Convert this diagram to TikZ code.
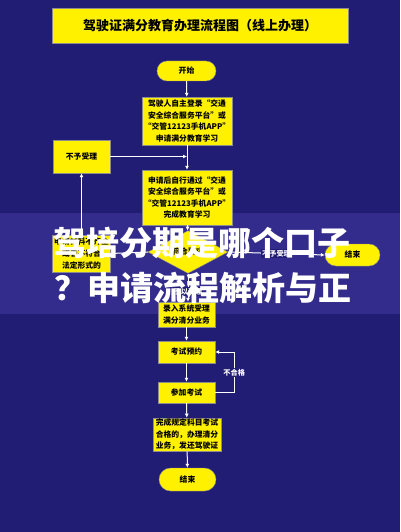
\documentclass[tikz,border=0pt]{standalone}
\usepackage{fontspec}
\setmainfont{Noto Sans CJK SC}
\usetikzlibrary{arrows.meta, shapes.geometric}

\definecolor{bgblue}{RGB}{33,29,117}
\definecolor{bandblue}{RGB}{52,44,140}
\definecolor{boxyellow}{RGB}{255,241,0}

\begin{document}
\begin{tikzpicture}[x=1pt, y=-1pt,
    box/.style={draw=black!45, line width=0.4pt, fill=boxyellow, align=center,
        inner sep=1pt, font=\fontsize{7.8}{11.6}\selectfont\bfseries},
    term/.style={box, minimum height=#1, rounded corners=#1/2},
    arr/.style={draw=white, line width=1pt, -{Latex[length=4pt, width=4pt]}},
    lbl/.style={fill=bgblue, text=white, inner sep=1pt,
        font=\fontsize{7.2}{8}\selectfont\bfseries}]
    % Variable za polozaj glavnog stupca
    \def\colX{187}

    % Pozadina i traka
    \fill[bgblue] (0,0) rectangle (400,532);
    \fill[bandblue] (0,213) rectangle (400,314);

    % Naslov
    \node[box, minimum width=296pt, minimum height=35pt,
        font=\fontsize{13}{14}\selectfont\bfseries] (title) at (200,25.5)
        {驾驶证满分教育办理流程图（线上办理）};

    % Glavni stupac
    \node[term=20pt, minimum width=59pt] (start) at (\colX-0.5,71) {开始};
    \node[box, minimum width=90pt, minimum height=48pt] (login) at (\colX,121)
        {驾驶人自主登录“交通\\安全综合服务平台”或\\“交管12123手机APP”\\申请满分教育学习};
    \node[box, minimum width=90pt, minimum height=55pt] (study) at (\colX,197.5)
        {申请后自行通过“交通\\安全综合服务平台”或\\“交管12123手机APP”\\完成教育学习};
    \node[diamond, box, minimum width=80pt, minimum height=40pt] (check) at (\colX+1,252)
        {符合要求};
    \node[box, minimum width=57pt, minimum height=25pt] (enter) at (\colX-0.5,314.5)
        {录入系统受理\\满分清分业务};
    \node[box, minimum width=57pt, minimum height=22pt] (book) at (\colX-0.5,352) {考试预约};
    \node[box, minimum width=57pt, minimum height=21pt] (exam) at (\colX-0.5,392.5) {参加考试};
    \node[box, minimum width=68pt, minimum height=33pt] (finish) at (\colX,434.5)
        {完成规定科目考试\\合格的，办理清分\\业务，发还驾驶证};
    \node[term=23pt, minimum width=57pt] (end) at (\colX+0.5,479.5) {结束};

    % Lijevi i desni cvorovi
    \node[box, minimum width=57pt, minimum height=33pt] (reject) at (81.5,156.5) {不予受理};
    \node[box, minimum width=58pt, minimum height=37pt] (lack) at (81.5,253.5)
        {申请材料不齐全\\或者不符合\\法定形式的};
    \node[term=22pt, minimum width=55pt] (endright) at (352.5,255) {结束};

    % Veze
    \draw[arr] (start) -- (login);
    \draw[arr] (login) -- (study);
    \draw[arr] (reject.east) -- (reject.east -| login.south);
    \draw[arr] (study) -- (check);
    \draw[arr] (check.west) -- (lack.east);
    \draw[arr] (lack) -- (reject);
    \draw[arr] (check.east) -- node[lbl] {不予受理} (endright.west);
    \draw[arr] (check.south) -- node[lbl, pos=0.65] {予以受理} (enter.north -| check.south);
    \draw[arr] (enter) -- (book);
    \draw[arr] (book) -- (exam);
    \draw[arr] (exam.east) -- ++(19,0) |- node[lbl, pos=0.25] {不合格} (book.east);
    \draw[arr] (exam) -- (finish);
    \draw[arr] (finish) -- (end);

    % Natpis preko slike
    \node[text=white, font=\fontsize{33}{33}\selectfont\bfseries] (capA) at (202,243)
        {驾培分期是哪个口子};
    \node[text=white, font=\fontsize{33}{33}\selectfont\bfseries] (capB) at (203,288)
        {？申请流程解析与正};
\end{tikzpicture}
\end{document}
